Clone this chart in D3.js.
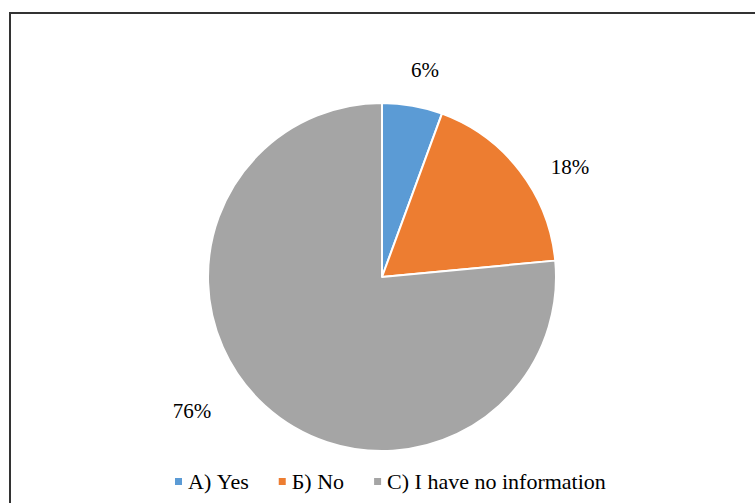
<!DOCTYPE html>
<html><head><meta charset="utf-8">
<script src="https://cdn.jsdelivr.net/npm/d3@7"></script>
<style>html,body{margin:0;padding:0;background:#fff;overflow:hidden}</style>
</head><body>
<svg id="c" width="755" height="503"></svg>
<script>
const categories = ["А) Yes", "Б) No", "C) I have no information"];
const values = [5.6, 17.9, 76.5];
const valueLabels = ["6%", "18%", "76%"];
const colors = ["#5B9BD5", "#ED7D31", "#A5A5A5"];
const FONT = "'Liberation Serif'";

const svg = d3.select("#c");
svg.append("rect").attr("x", 10).attr("y", 13).attr("width", 800).attr("height", 600)
  .attr("fill", "#fff").attr("stroke", "#333").attr("stroke-width", 2);

const cx = 382, cy = 277, r = 174;
const data = categories.map((c, i) => ({c, v: values[i], l: valueLabels[i], col: colors[i]}));
const pie = d3.pie().value(d => d.v).sort(null);
const arcs = pie(data);
const arc = d3.arc().innerRadius(0).outerRadius(r);
const g = svg.append("g").attr("transform", `translate(${cx},${cy})`);
g.selectAll("path").data(arcs).join("path")
  .attr("d", arc).attr("fill", d => d.data.col)
  .attr("stroke", "#fff").attr("stroke-width", 2).attr("stroke-linejoin", "round");

const labelPos = [[425, 70], [570, 167], [192, 411]];
svg.selectAll("text.lab").data(arcs).join("text").attr("class", "lab")
  .attr("x", (d, i) => labelPos[i][0]).attr("y", (d, i) => labelPos[i][1])
  .attr("text-anchor", "middle").attr("dominant-baseline", "central")
  .style("font-family", FONT).style("font-size", "21px")
  .attr("fill", "#000").text(d => d.data.l);

const lg = svg.append("g");
let x = 175;
data.forEach((d, i) => {
  lg.append("rect").attr("x", x).attr("y", 478).attr("width", 7).attr("height", 7).attr("fill", d.col);
  const t = lg.append("text").attr("x", x + 13).attr("y", 489)
    .style("font-family", FONT).style("font-size", "22px")
    .attr("fill", "#000").text(d.c);
  x += 13 + t.node().getComputedTextLength() + 30;
});
</script>
</body></html>
